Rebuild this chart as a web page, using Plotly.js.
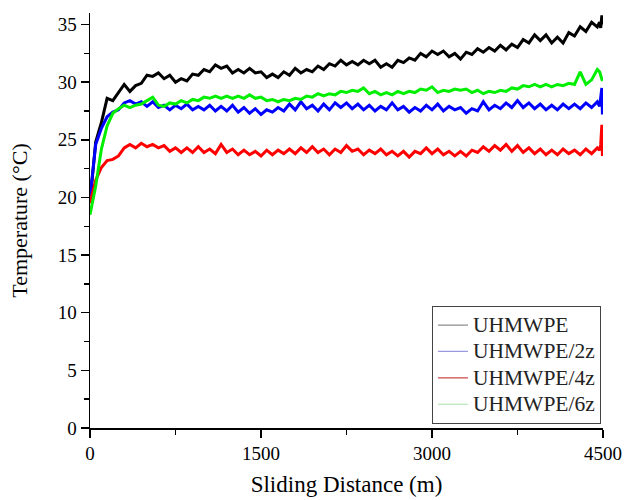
<!DOCTYPE html>
<html>
<head>
<meta charset="utf-8">
<script src="https://cdn.plot.ly/plotly-3.0.1.min.js"></script>
<style>html,body{margin:0;padding:0;background:#fff;}#chart{width:624px;height:500px;}</style>
</head>
<body>
<div id="chart"></div>
<script>
// Sliding distance (m)
const distance = [
  0, 50, 100, 150, 200, 250, 300, 350, 400, 450,
  500, 550, 600, 650, 700, 750, 800, 850, 900, 950,
  1000, 1050, 1100, 1150, 1200, 1250, 1300, 1350, 1400, 1450,
  1500, 1550, 1600, 1650, 1700, 1750, 1800, 1850, 1900, 1950,
  2000, 2050, 2100, 2150, 2200, 2250, 2300, 2350, 2400, 2450,
  2500, 2550, 2600, 2650, 2700, 2750, 2800, 2850, 2900, 2950,
  3000, 3050, 3100, 3150, 3200, 3250, 3300, 3350, 3400, 3450,
  3500, 3550, 3600, 3650, 3700, 3750, 3800, 3850, 3900, 3950,
  4000, 4050, 4100, 4150, 4200, 4250, 4300, 4350, 4400, 4450,
  4470, 4480, 4490, 4495
];

const seriesNames = ["UHMWPE", "UHMWPE/2z", "UHMWPE/4z", "UHMWPE/6z"];
const seriesColors = ["#000000", "#0000ff", "#ff0000", "#00ee00"];
const legendColors = ["#8c8c8c", "#9a9ae0", "#c84848", "#a8e0a8"];

// Temperature (°C)
const tempUHMWPE = [
  19.6, 24.8, 26.5, 28.6, 28.4, 29.1, 29.8, 29.2, 29.7, 29.9,
  30.6, 30.5, 30.8, 30.3, 30.6, 30.0, 30.3, 30.1, 30.7, 30.6,
  31.1, 30.9, 31.5, 31.2, 31.4, 30.8, 31.1, 30.8, 31.2, 30.8,
  30.9, 30.4, 30.7, 30.4, 30.9, 30.6, 31.2, 30.8, 31.1, 30.9,
  31.4, 31.1, 31.6, 31.4, 31.9, 31.5, 31.8, 31.5, 31.9, 31.6,
  31.9, 31.3, 31.6, 31.3, 31.9, 31.7, 32.1, 31.9, 32.5, 32.2,
  32.7, 32.4, 32.7, 32.2, 32.5, 32.0, 32.6, 32.4, 32.9, 32.6,
  33.0, 32.7, 33.2, 32.8, 33.3, 33.0, 33.7, 33.4, 34.1, 33.6,
  34.1, 33.4, 33.9, 33.4, 34.3, 34.0, 34.8, 34.4, 35.2, 34.8,
  35.2, 34.7, 35.8, 35.0
];

const temp2z = [
  20.0, 24.6, 26.0, 27.0, 27.4, 27.6, 28.2, 28.4, 28.1, 28.3,
  27.9, 28.3, 27.8, 28.0, 27.6, 28.0, 27.7, 28.1, 27.6, 27.9,
  27.6, 28.0, 27.5, 27.9, 27.5, 28.0, 27.4, 27.8, 27.3, 27.7,
  27.2, 27.6, 27.4, 27.8, 27.5, 28.1, 27.6, 28.3, 27.7, 28.0,
  27.5, 28.1, 27.6, 28.2, 27.8, 28.2, 27.7, 28.1, 27.6, 28.0,
  27.5, 27.9, 27.6, 28.2, 27.6, 27.9, 27.4, 27.8, 27.5, 28.0,
  27.6, 28.1, 27.5, 27.9, 27.6, 27.8, 27.3, 27.7, 27.5, 28.3,
  27.6, 28.0, 27.7, 28.2, 27.8, 28.4, 27.8, 28.2, 27.7, 28.1,
  27.6, 28.0, 27.6, 28.1, 27.7, 28.1, 27.7, 28.2, 27.8, 28.3,
  27.9, 28.5, 29.5, 27.2
];

const temp4z = [
  19.5, 21.5, 22.6, 23.2, 23.3, 23.6, 24.3, 24.6, 24.3, 24.7,
  24.4, 24.6, 24.3, 24.5, 24.0, 24.3, 23.9, 24.3, 23.9, 24.4,
  23.9, 24.2, 23.8, 24.6, 23.9, 24.2, 23.7, 24.1, 23.7, 24.0,
  23.6, 24.1, 23.7, 24.1, 23.8, 24.2, 23.8, 24.3, 23.9, 24.4,
  23.9, 24.2, 23.7, 24.2, 23.9, 24.5, 24.0, 24.2, 23.7, 24.1,
  23.8, 24.2, 23.7, 24.0, 23.6, 24.0, 23.5, 24.0, 23.8, 24.3,
  23.8, 24.2, 23.7, 24.0, 23.6, 24.0, 23.6, 24.1, 23.9, 24.4,
  24.0, 24.5, 24.1, 24.6, 24.0, 24.5, 23.9, 24.3, 23.8, 24.2,
  23.7, 24.1, 23.7, 24.2, 23.8, 24.1, 23.7, 24.2, 23.8, 24.3,
  24.1, 24.6, 26.3, 23.6
];

const temp6z = [
  18.5, 21.0, 24.2, 26.2, 27.3, 27.7, 28.0, 27.8, 28.0, 28.1,
  28.4, 28.7, 28.0, 27.9, 28.2, 28.1, 28.4, 28.2, 28.5, 28.4,
  28.7, 28.6, 28.8, 28.6, 28.8, 28.6, 28.8, 28.6, 28.9, 28.6,
  28.7, 28.4, 28.5, 28.3, 28.5, 28.4, 28.6, 28.5, 28.8, 28.7,
  29.0, 28.8, 29.0, 28.9, 29.2, 29.1, 29.3, 29.2, 29.5, 29.0,
  29.2, 28.9, 29.1, 28.9, 29.2, 29.0, 29.2, 29.1, 29.4, 29.3,
  29.6, 29.1, 29.3, 29.2, 29.4, 29.3, 29.4, 29.1, 29.3, 29.0,
  29.2, 29.1, 29.3, 29.2, 29.5, 29.4, 29.7, 29.6, 29.8, 29.6,
  29.8, 29.6, 29.8, 29.7, 29.9, 29.8, 30.9, 29.8, 30.2, 31.1,
  30.9, 30.5, 30.2, 30.1
];

const xTickVals = [0, 1500, 3000, 4500];
const xMinorVals = [750, 2250, 3750];
const yTickVals = [0, 5, 10, 15, 20, 25, 30, 35];
const yMinorVals = [2.5, 7.5, 12.5, 17.5, 22.5, 27.5, 32.5];

const allTemps = [tempUHMWPE, temp2z, temp4z, temp6z];
const traces = allTemps.map((t, i) => ({
  x: distance,
  y: t,
  type: "scatter",
  mode: "lines",
  name: seriesNames[i],
  showlegend: false,
  line: { color: seriesColors[i], width: 3 }
}));
// legend keys (thin, lighter sample lines as in the original)
seriesNames.forEach((n, i) => traces.push({
  x: [null], y: [null], type: "scatter", mode: "lines",
  name: '<span style="font-size:21.5px">' + n + '</span>',
  showlegend: true, line: { color: legendColors[i], width: 1.2 }
}));

const font = "Liberation Serif";
const layout = {
  width: 624,
  height: 500,
  margin: { l: 90, r: 21, t: 13, b: 72 },
  paper_bgcolor: "#ffffff",
  plot_bgcolor: "#ffffff",
  font: { family: font, color: "#000", size: 19 },
  showlegend: true,
  xaxis: {
    range: [0, 4500],
    tickvals: xTickVals,
    ticktext: xTickVals.map(String),
    ticks: "outside",
    ticklen: 8,
    tickwidth: 1.5,
    tickcolor: "#000",
    showline: true,
    linecolor: "#000",
    linewidth: 1.5,
    showgrid: false,
    zeroline: false,
    minor: { tickvals: xMinorVals, ticks: "outside", ticklen: 5, tickwidth: 1.5, tickcolor: "#000", showgrid: false },
    tickfont: { family: font, size: 19, color: "#000" },
    title: { text: "Sliding Distance (m)", font: { family: font, size: 23, color: "#000" }, standoff: 12 }
  },
  yaxis: {
    range: [0, 36],
    tickvals: yTickVals,
    ticktext: yTickVals.map(String),
    ticks: "outside",
    ticklen: 8,
    tickwidth: 1.5,
    tickcolor: "#000",
    showline: true,
    linecolor: "#000",
    linewidth: 1.5,
    showgrid: false,
    zeroline: false,
    minor: { tickvals: yMinorVals, ticks: "outside", ticklen: 5, tickwidth: 1.5, tickcolor: "#000", showgrid: false },
    tickfont: { family: font, size: 19, color: "#000" },
    title: { text: "Temperature (°C)", font: { family: font, size: 22, color: "#000" }, standoff: 24 }
  },
  legend: {
    x: 0.996,
    xanchor: "right",
    y: 0.01,
    yanchor: "bottom",
    bgcolor: "#ffffff",
    bordercolor: "#444",
    borderwidth: 1,
    font: { family: font, size: 18, color: "#222" },
    tracegroupgap: 0,
    entrywidth: 170
  }
};

Plotly.newPlot("chart", traces, layout, { displayModeBar: false, staticPlot: true });
</script>
</body>
</html>
